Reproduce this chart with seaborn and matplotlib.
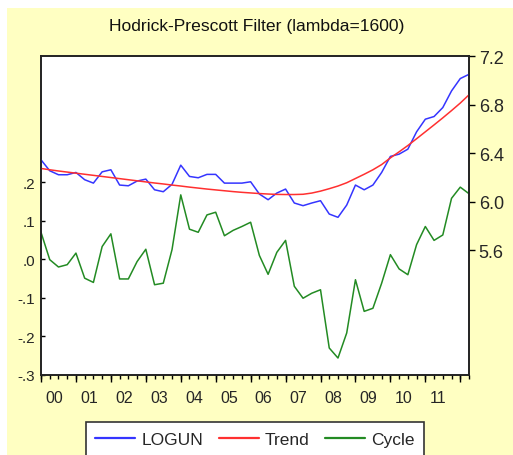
import numpy as np
import pandas as pd
import seaborn as sns
import matplotlib
matplotlib.use("Agg")
import matplotlib.pyplot as plt
from matplotlib.patches import Rectangle
from matplotlib.lines import Line2D

# ---- data (quarterly, 2000Q1 .. 2012Q2) ----
logun = [6.344, 6.254, 6.221, 6.221, 6.240, 6.180, 6.152, 6.245, 6.262, 6.136,
         6.130, 6.169, 6.185, 6.097, 6.081, 6.142, 6.300, 6.207, 6.196, 6.224,
         6.224, 6.152, 6.152, 6.152, 6.163, 6.062, 6.015, 6.070, 6.103, 5.988,
         5.966, 5.988, 6.007, 5.897, 5.870, 5.971, 6.136, 6.097, 6.136, 6.240,
         6.372, 6.391, 6.432, 6.575, 6.679, 6.701, 6.775, 6.912, 7.014, 7.049]
trend = [6.273, 6.262, 6.252, 6.243, 6.234, 6.225, 6.216, 6.207, 6.198, 6.189,
         6.180, 6.171, 6.162, 6.153, 6.145, 6.136, 6.128, 6.119, 6.111, 6.103,
         6.096, 6.089, 6.082, 6.076, 6.071, 6.066, 6.062, 6.059, 6.058, 6.058,
         6.060, 6.070, 6.086, 6.106, 6.128, 6.155, 6.190, 6.225, 6.262, 6.305,
         6.360, 6.410, 6.462, 6.518, 6.575, 6.632, 6.690, 6.750, 6.812, 6.880]
cycle = [0.070, -0.001, -0.020, -0.014, 0.016, -0.049, -0.060, 0.033, 0.066, -0.051,
         -0.051, -0.006, 0.026, -0.066, -0.062, 0.025, 0.167, 0.078, 0.070, 0.115,
         0.122, 0.061, 0.075, 0.085, 0.096, 0.010, -0.039, 0.018, 0.049, -0.070,
         -0.101, -0.088, -0.079, -0.230, -0.256, -0.191, -0.053, -0.135, -0.127, -0.062,
         0.012, -0.025, -0.040, 0.038, 0.085, 0.049, 0.063, 0.158, 0.187, 0.170]
year_labels = ["00", "01", "02", "03", "04", "05", "06", "07", "08", "09", "10", "11"]
left_ticks = [-0.3, -0.2, -0.1, 0.0, 0.1, 0.2]
left_tick_labels = ["-.3", "-.2", "-.1", ".0", ".1", ".2"]
right_ticks = [5.6, 6.0, 6.4, 6.8, 7.2]
series_names = ["LOGUN", "Trend", "Cycle"]

n = len(logun)
df = pd.DataFrame({"t": np.arange(n), "LOGUN": logun, "Trend": trend, "Cycle": cycle})

BLUE = "#3535FF"
RED = "#FF3030"
GREEN = "#238B23"
YELLOW = "#FFFFC2"

sns.set_style("white")
plt.rcParams["font.family"] = ["Liberation Sans", "DejaVu Sans"]

fig = plt.figure(figsize=(5.13, 4.56), dpi=100)
fig.patch.set_facecolor("white")
fig.patches.append(Rectangle((7 / 513, 0), 1 - 7 / 513, 1 - 9 / 456,
                             transform=fig.transFigure, facecolor=YELLOW,
                             edgecolor="none", zorder=-10))

ax = fig.add_axes([41 / 513, 1 - 376 / 456, (469 - 41) / 513, (376 - 57) / 456])
ax.set_facecolor("white")
ax2 = ax.twinx()

sns.lineplot(data=df, x="t", y="Cycle", ax=ax, color=GREEN, lw=1.1)
sns.lineplot(data=df, x="t", y="LOGUN", ax=ax2, color=BLUE, lw=1.1)
sns.lineplot(data=df, x="t", y="Trend", ax=ax2, color=RED, lw=1.1)

ax.set_xlim(0, n - 1)
ax.set_ylim(-0.3, 0.527)
ax2.set_ylim(4.57, 7.2)

ax.set_yticks(left_ticks)
ax.set_yticklabels(left_tick_labels, fontsize=11)
ax2.set_yticks(right_ticks)
ax2.set_yticklabels([f"{v:.1f}" for v in right_ticks], fontsize=13)

label_pos = [4 * k + 1.5 for k in range(len(year_labels))]
ax.set_xticks(label_pos)
ax.set_xticklabels(year_labels, fontsize=11.5)
ax.set_xticks(np.arange(n), minor=True)
ax.tick_params(axis="x", which="major", length=0, pad=10.5)
ax.tick_params(axis="x", which="minor", length=3, width=1, direction="out", color="black", bottom=True)
ax.tick_params(axis="y", which="major", length=3, width=1, direction="in", color="black", left=True, pad=4)
ax2.tick_params(axis="y", which="major", length=4, width=1, direction="out", color="black", right=True, pad=3)

sec = ax.secondary_xaxis("bottom")
sec.set_xticks(np.arange(0, n, 4))
sec.set_xticklabels([])
sec.tick_params(axis="x", length=5, width=1, direction="out", color="black")
sec.spines["bottom"].set_visible(False)

for a in (ax, ax2):
    a.set_xlabel("")
    a.set_ylabel("")
    for s in a.spines.values():
        s.set_color("#222222")
        s.set_linewidth(1.2)
ax2.patch.set_visible(False)

fig.text(0.5, 1 - 26 / 456, "Hodrick-Prescott Filter (lambda=1600)", ha="center",
         va="center", fontsize=12.6, color="#111111")

handles = [Line2D([], [], color=c, lw=1.6) for c in (BLUE, RED, GREEN)]
leg = fig.legend(handles, series_names, loc="upper center", ncol=3,
                 bbox_to_anchor=(255 / 513, 1 - 423 / 456), fontsize=12.5,
                 frameon=True, fancybox=False, handlelength=2.3, columnspacing=0.9,
                 handletextpad=0.35, borderpad=0.55, borderaxespad=0)
leg.get_frame().set_edgecolor("#333333")
leg.get_frame().set_linewidth(1.2)
leg.get_frame().set_facecolor("white")
leg.get_frame().set_alpha(1)

fig.savefig("out.png", dpi=100, facecolor=fig.get_facecolor())
